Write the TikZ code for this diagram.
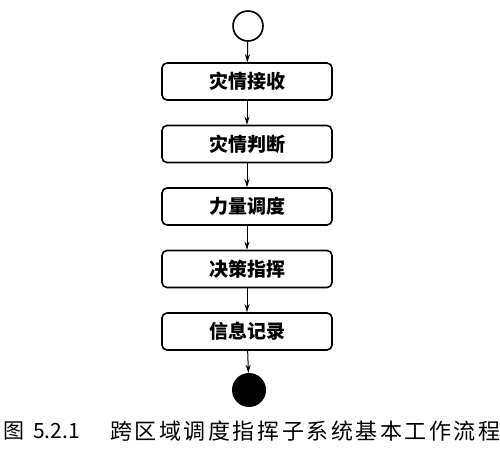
\documentclass[tikz,border=0pt]{standalone}
\usepackage{fontspec}
\newfontfamily\cjk{Noto Sans CJK SC}
\newfontfamily\cjkcaption[LetterSpace=11.6]{Noto Sans CJK SC}
\usetikzlibrary{arrows.meta}
\tikzset{
	stepbox/.style = {draw, line width=1.6pt, rounded corners=5pt, minimum width=170pt, minimum height=37pt, inner sep=0pt, font=\cjk\bfseries\fontsize{19}{19}\selectfont},
	flow/.style = {-{Stealth[length=8pt, width=5pt]}, line width=1pt}
}
\begin{document}
\begin{tikzpicture}[x=1pt, y=-1pt]
		\useasboundingbox[fill=white] (0,0) rectangle (500,453);
		\node[circle, draw, line width=1.6pt, minimum size=30pt, inner sep=0pt] (start) at (248,26) {};
		\node[stepbox] (receive) at (247,81.5) {灾情接收};
		\node[stepbox] (judge) at (247,144) {灾情判断};
		\node[stepbox] (dispatch) at (247,206.5) {力量调度};
		\node[stepbox] (command) at (247,269) {决策指挥};
		\node[stepbox] (record) at (247,331.5) {信息记录};
		\node[circle, fill, minimum size=34pt, inner sep=0pt] (stop) at (249,390) {};
		\node[anchor=west, inner sep=0pt, font=\cjk\fontsize{21}{21}\selectfont] (number) at (3,431) {图\hspace{9pt}5.2.1};
		\node[anchor=west, inner sep=0pt, font=\cjkcaption\fontsize{22}{22}\selectfont] (caption) at (110,431) {跨区域调度指挥子系统基本工作流程};
		
		\draw[flow] (start) -- (receive);
		\draw[flow] (receive) -- (judge);
		\draw[flow] (judge) -- (dispatch);
		\draw[flow] (dispatch) -- (command);
		\draw[flow] (command) -- (record);
		\draw[flow] (record) -- (stop);
		
	\end{tikzpicture}
\end{document}
